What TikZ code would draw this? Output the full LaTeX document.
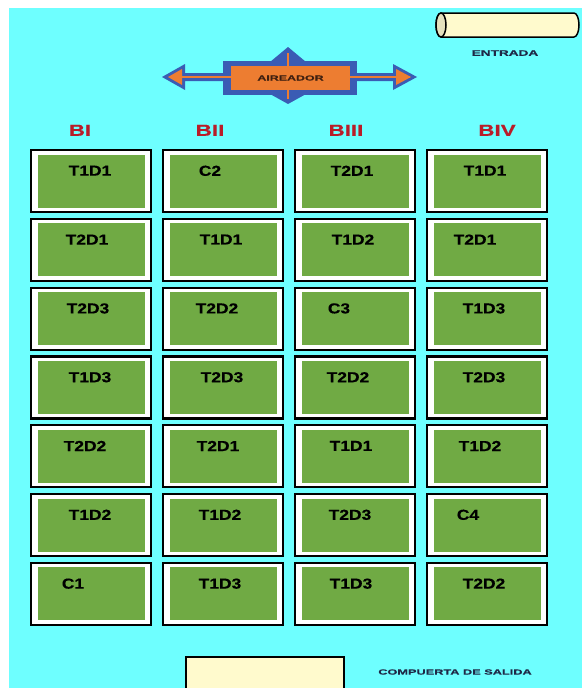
\documentclass[tikz,border=0pt]{standalone}
\usepackage{fontspec}
\setmainfont{Liberation Sans}[FakeStretch=1.2, FakeBold=0.4]
\newfontfamily\headfont{Liberation Sans}[FakeStretch=1.4, FakeBold=0.4]
\newfontfamily\widefont{Liberation Sans}[FakeStretch=1.7, FakeBold=0.5]
\usepackage{xcolor}
\usepackage{tikz}
\usetikzlibrary{positioning}

\definecolor{pond}{RGB}{110,255,255}
\definecolor{grass}{RGB}{112,170,68}
\definecolor{aerorange}{RGB}{237,125,49}
\definecolor{aerblue}{RGB}{58,92,180}
\definecolor{cream}{RGB}{255,250,205}
\definecolor{headred}{RGB}{185,28,40}
\definecolor{navy}{RGB}{30,40,70}

\begin{document}
\begin{tikzpicture}[
  x=1pt, y=-1pt,
  plot/.style={draw=black, line width=2.2pt, fill=white, minimum width=120pt, minimum height=62pt, inner sep=0pt, outer sep=0pt},
  crop/.style={fill=grass, minimum width=107pt, minimum height=53pt, inner sep=0pt},
  lbl/.style={font=\bfseries\fontsize{14.5}{14.5}\selectfont, inner sep=0pt},
  head/.style={font=\headfont\bfseries\fontsize{16}{16}\selectfont, text=headred, inner sep=0pt},
  note/.style={font=\widefont\bfseries\fontsize{7.5}{7.5}\selectfont, text=navy, inner sep=0pt},
  gatebox/.style={draw=black, line width=2.5pt, fill=cream, minimum width=158pt, minimum height=50pt, inner sep=0pt}
]
\useasboundingbox (0,0) rectangle (582,688);
\fill[pond] (9,8) rectangle (582,688);

% Entrada
\draw[line width=1.5pt, fill=cream] (441,13) -- (574,13)
  arc[start angle=90, end angle=-90, x radius=5pt, y radius=12pt] -- (441,37)
  arc[start angle=270, end angle=90, x radius=5pt, y radius=12pt] -- cycle;
\draw[line width=1.5pt, fill=cream!80!gray] (441,25) ellipse[x radius=5pt, y radius=12pt];
\node[note, font=\widefont\bfseries\fontsize{8}{8}\selectfont] (entrada) at (505,53) {ENTRADA};

% Aireador
\fill[aerblue] (162,77) -- (185,64) -- (185,73) -- (393,73) -- (393,64) -- (417,77) -- (393,90) -- (393,81) -- (185,81) -- (185,90) -- cycle;
\fill[aerblue] (288,47) -- (306,62) -- (270,62) -- cycle;
\fill[aerblue] (288,104) -- (306,94) -- (270,94) -- cycle;
\node[fill=aerblue, minimum width=134pt, minimum height=34pt, inner sep=0pt] (aerbox) at (290,78) {};
\draw[aerorange, line width=2.5pt] (170,77) -- (410,77);
\draw[aerorange, line width=2.5pt] (288,53) -- (288,99);
\fill[aerorange] (168,77) -- (182,69) -- (182,85) -- cycle;
\fill[aerorange] (411,77) -- (396,69) -- (396,85) -- cycle;
\node[fill=aerorange, minimum width=119pt, minimum height=24pt, inner sep=0pt,
  font=\widefont\bfseries\fontsize{7.3}{7.3}\selectfont, text={rgb,255:red,64;green,32;blue,16}] (aer) at (290.5,78) {AIREADOR};

% Parcelas
\foreach \c/\r/\txt/\dx in {
  0/0/T1D1/-1, 1/0/C2/-13, 2/0/T2D1/-3, 3/0/T1D1/-2,
  0/1/T2D1/-4, 1/1/T1D1/-2, 2/1/T1D2/-2, 3/1/T2D1/-12,
  0/2/T2D3/-3, 1/2/T2D2/-6, 2/2/C3/-16, 3/2/T1D3/-3,
  0/3/T1D3/-1, 1/3/T2D3/-1, 2/3/T2D2/-7, 3/3/T2D3/-3,
  0/4/T2D2/-6, 1/4/T2D1/-5, 2/4/T1D1/-4, 3/4/T1D2/-7,
  0/5/T1D2/-1, 1/5/T1D2/-3, 2/5/T2D3/-5, 3/5/C4/-19,
  0/6/C1/-18, 1/6/T1D3/-3, 2/6/T1D3/-4, 3/6/T2D2/-3}
{
  \node[plot] (b-\c-\r) at ({91+132*\c},{181+68.8*\r}) {};
  \node[crop] (g-\c-\r) at (b-\c-\r.center) {};
  \node[lbl, below=15.5pt of b-\c-\r.north, xshift=\dx pt] (t-\c-\r) {\txt};
}

% Bloques
\node[head, above=14pt of b-0-0, xshift=-11pt] (bi) {BI};
\node[head, above=14pt of b-1-0, xshift=-13pt] (bii) {BII};
\node[head, above=14pt of b-2-0, xshift=-9pt] (biii) {BIII};
\node[head, above=14pt of b-3-0, xshift=10pt] (biv) {BIV};

% Compuerta
\node[gatebox] (gate) at (265,682) {};
\node[note] (salida) at (455,672) {COMPUERTA DE SALIDA};
\end{tikzpicture}
\end{document}
